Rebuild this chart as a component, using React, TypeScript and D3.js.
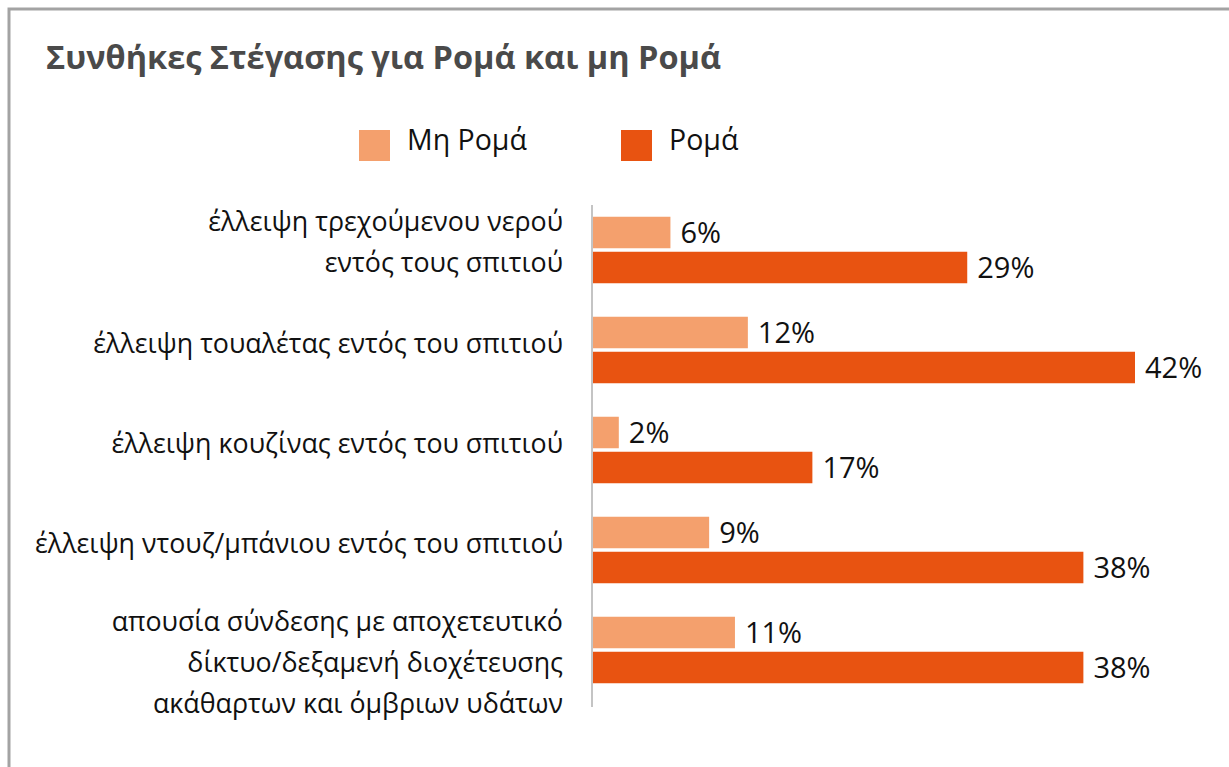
import React, { useRef, useEffect } from 'react';
import * as d3 from 'd3';

const categories: string[][] = [
  ['έλλειψη τρεχούμενου νερού', 'εντός τους σπιτιού'],
  ['έλλειψη τουαλέτας εντός του σπιτιού'],
  ['έλλειψη κουζίνας εντός του σπιτιού'],
  ['έλλειψη ντουζ/μπάνιου εντός του σπιτιού'],
  ['απουσία σύνδεσης με αποχετευτικό', 'δίκτυο/δεξαμενή διοχέτευσης', 'ακάθαρτων και όμβριων υδάτων'],
];
const nonRoma = [6, 12, 2, 9, 11];
const roma = [29, 42, 17, 38, 38];
const seriesNames = ['Μη Ρομά', 'Ρομά'];
const title = 'Συνθήκες Στέγασης για Ρομά και μη Ρομά';

const W = 1229;
const H = 767;
const FONT = '"Open Sans", "Noto Sans", sans-serif';

const App: React.FC = () => {
  const ref = useRef<SVGSVGElement | null>(null);

  useEffect(() => {
    if (!ref.current) return;
    const svg = d3.select(ref.current);
    svg.selectAll('*').remove();

    const colors = ['#F4A06D', '#E85311'];

    // frame
    svg.append('rect')
      .attr('x', 9).attr('y', 9)
      .attr('width', W + 20).attr('height', H + 20)
      .attr('fill', '#fff')
      .attr('stroke', '#a3a3a3')
      .attr('stroke-width', 3);

    svg.append('text')
      .attr('x', 46).attr('y', 69)
      .attr('font-family', FONT)
      .attr('font-weight', 'bold')
      .attr('font-size', 32.5)
      .attr('fill', '#4a4a4a')
      .text(title);

    // legend
    const legendX = [359, 621];
    seriesNames.forEach((name, i) => {
      svg.append('rect')
        .attr('x', legendX[i]).attr('y', 130)
        .attr('width', 31).attr('height', 31)
        .attr('fill', colors[i]);
      svg.append('text')
        .attr('x', legendX[i] + 48).attr('y', 140)
        .attr('dy', '0.36em')
        .attr('font-family', FONT)
        .attr('font-size', 28.5)
        .attr('fill', '#111')
        .text(name);
    });

    const x0 = 593;
    const x = d3.scaleLinear().domain([0, 42]).range([x0, x0 + 542]);
    const y = d3.scaleBand<number>().domain(d3.range(categories.length)).range([200, 700]);
    const barH = 31.5;
    const gap = 3.5;

    const g = svg.append('g');
    categories.forEach((lines, i) => {
      const c = (y(i) as number) + y.bandwidth() / 2;
      const vals = [nonRoma[i], roma[i]];
      vals.forEach((v, j) => {
        const top = j === 0 ? c - gap / 2 - barH : c + gap / 2;
        g.append('rect')
          .attr('x', x0).attr('y', top)
          .attr('width', x(v) - x0).attr('height', barH)
          .attr('fill', colors[j]);
        g.append('text')
          .attr('x', x(v) + 10).attr('y', top + barH / 2)
          .attr('dy', '0.36em')
          .attr('font-family', FONT)
          .attr('font-size', 29)
          .attr('fill', '#111')
          .text(`${v}%`);
      });
      const y0 = lines.length > 1 ? c - 28 : c - 6;
      lines.forEach((line, k) => {
        g.append('text')
          .attr('x', 563).attr('y', y0 + k * 41)
          .attr('dy', '0.34em')
          .attr('text-anchor', 'end')
          .attr('font-family', FONT)
          .attr('font-size', 26.8)
          .attr('fill', '#111')
          .text(line);
      });
    });

    // axis line
    svg.append('line')
      .attr('x1', 592).attr('x2', 592)
      .attr('y1', 205).attr('y2', 707)
      .attr('stroke', '#c4c4c4')
      .attr('stroke-width', 2);
  }, []);

  return (
    <svg
      ref={ref}
      width={W}
      height={H}
      style={{ position: 'absolute', left: 0, top: 0, background: '#fff' }}
    />
  );
};

export default App;
